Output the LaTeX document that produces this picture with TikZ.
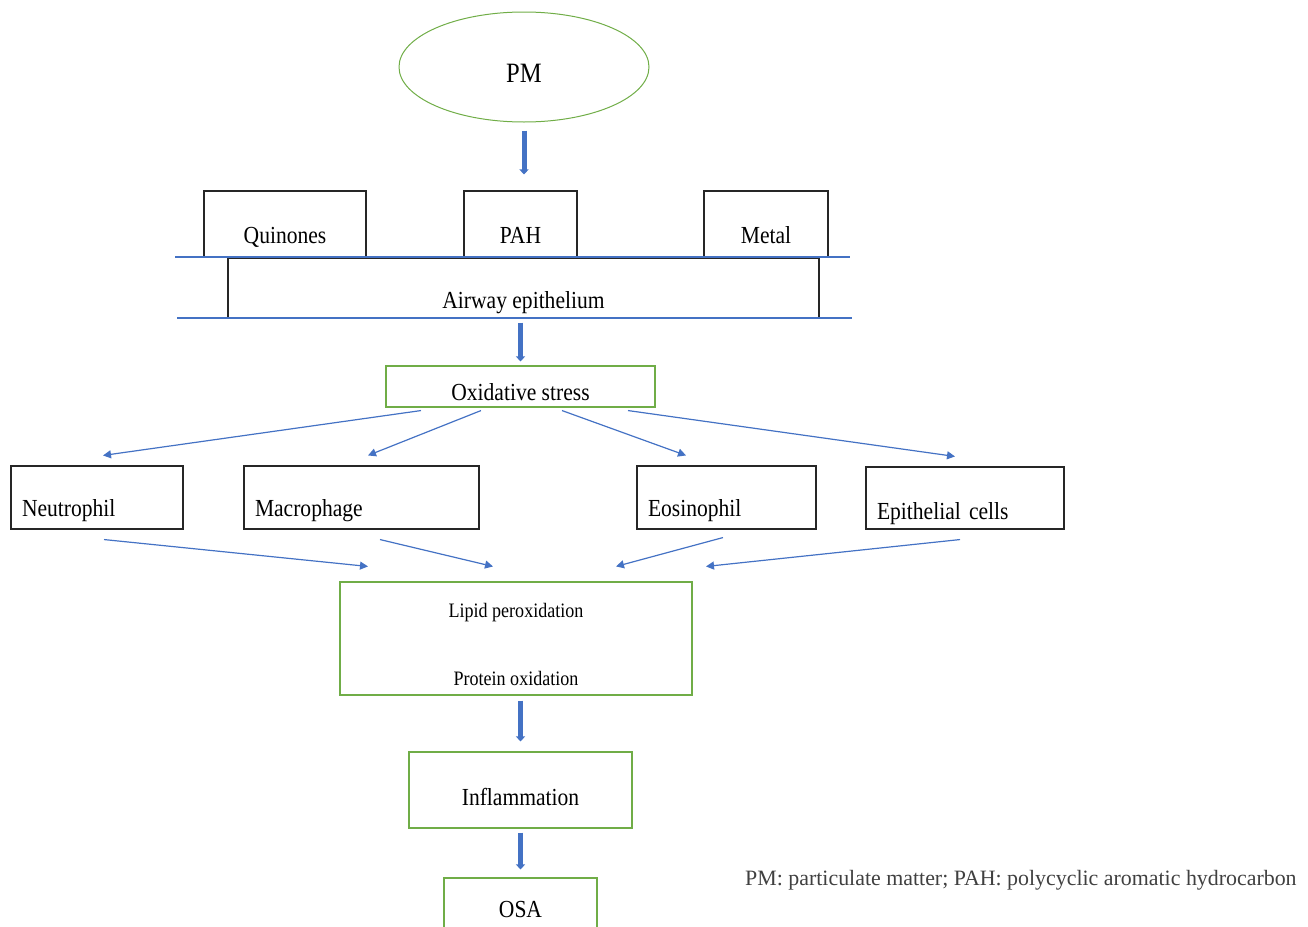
\documentclass[tikz,border=0pt]{standalone}
\usepackage{fontspec}
\setmainfont[FakeStretch=0.88]{Liberation Serif}
\newfontfamily\notefont{Liberation Serif}
\usepackage{tikz}
\usetikzlibrary{shapes.geometric,arrows.meta,calc}
\definecolor{lineblue}{HTML}{4472C4}
\definecolor{boxgreen}{HTML}{70AD47}

\begin{document}
\begin{tikzpicture}[x=1pt,y=-1pt,
		blackbox/.style={draw=black!85,line width=1.1pt,inner sep=0pt,
			font=\fontsize{24.5}{29}\selectfont,text depth=0pt},
		greenbox/.style={draw=boxgreen,line width=1.1pt,inner sep=0pt,
			font=\fontsize{24.5}{29}\selectfont,text depth=0pt},
		cellbox/.style={blackbox,inner xsep=11pt,align=left,minimum height=63pt,text height=38pt},
		bigarrow/.style={draw=lineblue,line width=5pt,-{Triangle[length=5pt,width=9pt]}},
		thinarrow/.style={draw=lineblue,line width=1.2pt,-{Triangle[length=8pt,width=8pt]}}]
		% 画布大小
		\useasboundingbox (0,0) rectangle (1308,926);
		\clip (0,0) rectangle (1308,926);
		% 颗粒物
		\node[ellipse,draw=boxgreen,line width=1pt,inner sep=0pt,minimum width=250pt,minimum height=110pt,
			font=\fontsize{28}{32}\selectfont,text height=31pt,text depth=0pt] (pm) at (524,67) {PM};
		% 成分
		\node[blackbox,minimum width=162pt,minimum height=66pt,text height=38pt] (quin) at (285,224) {Quinones};
		\node[blackbox,minimum width=113pt,minimum height=66pt,text height=38pt] (pah) at (520.5,224) {PAH};
		\node[blackbox,minimum width=124pt,minimum height=66pt,text height=38pt] (metal) at (766,224) {Metal};
		% 气道上皮
		\node[blackbox,minimum width=591pt,minimum height=60pt,text height=40pt] (air) at (523.5,288) {Airway epithelium};
		\draw[lineblue,line width=1.2pt] (175,257) -- (850,257);
		\draw[lineblue,line width=1.2pt] (177,318) -- (852,318);
		% 氧化应激
		\node[greenbox,minimum width=269pt,minimum height=41pt,text height=28pt] (ox) at (520.5,386.5) {Oxidative stress};
		% 细胞
		\node[cellbox,text width=150pt] (neu) at (97,497.5) {Neutrophil};
		\node[cellbox,text width=213pt] (mac) at (361.5,497.5) {Macrophage};
		\node[cellbox,text width=157pt] (eos) at (726.5,497.5) {Eosinophil};
		\node[cellbox,text width=176pt,minimum height=62pt,text height=42pt] (epi) at (965,498) {Epithelial cells};
		% 氧化损伤
		\node[greenbox,minimum width=352pt,minimum height=113pt,align=center,
			font=\fontsize{20.5}{68}\selectfont,text height=93pt,text depth=0pt] (lip) at (516,638.5)
			{Lipid peroxidation\\Protein oxidation};
		\node[greenbox,minimum width=223pt,minimum height=76pt,text height=30pt] (infl) at (520.5,790) {Inflammation};
		\node[greenbox,minimum width=153pt,minimum height=60pt,text height=18pt] (osa) at (520.5,908) {OSA};
		% 注释
		\node[anchor=base west,inner sep=0pt,text=black!75,font=\notefont\fontsize{21.9}{26}\selectfont] (note)
			at (745,885) {PM: particulate matter; PAH: polycyclic aromatic hydrocarbon};
		% 粗箭头
		\draw[bigarrow,shorten <=8pt,shorten >=16pt] (pm.south) -- (pm.south |- pah.north);
		\draw[bigarrow,shorten <=4pt,shorten >=4pt] (ox.north |- air.south) -- (ox.north);
		\draw[bigarrow,shorten <=5pt,shorten >=10pt] (infl.north |- lip.south) -- (infl.north);
		\draw[bigarrow,shorten <=4pt,shorten >=8pt] (infl.south) -- (osa.north);
		% 细箭头
		\foreach \dx/\tgt/\ex in {-99.5/neu/6, -39.5/mac/6.5, 41.5/eos/-40.5, 107.5/epi/-10}
			\draw[thinarrow] ($(ox.south)+(\dx,3)$) -- ($(\tgt.north)+(\ex,-10)$);
		\foreach \src/\sx/\sy/\dx in {neu/7/10/-148, mac/18.5/10/-23, eos/-3.5/8/100, epi/-5/10/190}
			\draw[thinarrow] ($(\src.south)+(\sx,\sy)$) -- ($(lip.north)+(\dx,-15)$);
	\end{tikzpicture}
\end{document}
